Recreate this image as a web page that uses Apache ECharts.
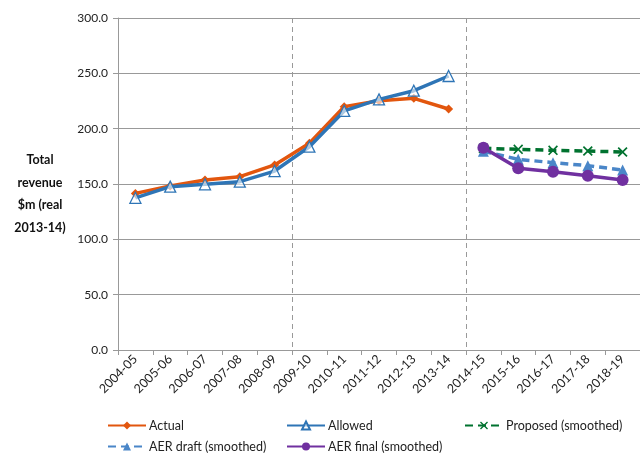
<!DOCTYPE html>
<html><head><meta charset="utf-8">
<script src="https://cdn.jsdelivr.net/npm/echarts@6/dist/echarts.min.js"></script>
<style>html,body{margin:0;padding:0;background:#fff}#c{width:640px;height:454px}</style>
</head><body><div id="c"></div>
<script>
var categories = ['2004-05','2005-06','2006-07','2007-08','2008-09','2009-10','2010-11','2011-12','2012-13','2013-14','2014-15','2015-16','2016-17','2017-18','2018-19'];
var actual   = [141.5,148.2,153.6,156.6,167.2,186.8,219.9,225.3,227.4,217.8,null,null,null,null,null];
var allowed  = [137.5,147.6,149.7,152.1,161.7,183.7,216.0,226.5,234.3,247.6,null,null,null,null,null];
var proposed = [null,null,null,null,null,null,null,null,null,null,182.2,181.3,180.4,179.8,178.9];
var aerDraft = [null,null,null,null,null,null,null,null,null,null,179.5,172.3,169.3,166.6,162.6];
var aerFinal = [null,null,null,null,null,null,null,null,null,null,182.8,164.2,161.1,157.5,153.6];
var yTicks = [0,50,100,150,200,250,300];

var FONT = 'Lato';
var crossPath = 'path://M1.2,0 L5,3.8 L8.8,0 L10,1.2 L6.2,5 L10,8.8 L8.8,10 L5,6.2 L1.2,10 L0,8.8 L3.8,5 L0,1.2 Z';
var chart = echarts.init(document.getElementById('c'));
function lg(name, left, top){
  return {data:[name], left:left, top:top, itemWidth:38, itemHeight:10, orient:'horizontal', padding:0,
    textStyle:{fontFamily:FONT, fontSize:12.5, color:'#222', padding:[0,0,0,-2]}, selectedMode:false};
}
chart.setOption({
  animation:false,
  textStyle:{fontFamily:FONT},
  grid:{left:118, right:-7, top:18, bottom:104},
  legend:[lg('Actual',107,419), lg('Allowed',286,419), lg('Proposed (smoothed)',464,419),
          lg('AER draft (smoothed)',107,440), lg('AER final (smoothed)',286,440)],
  graphic:[
    {type:'text', x:40, y:194, style:{text:'Total\nrevenue\n$m (real\n2013-14)', fontFamily:FONT, fontWeight:'bold', fontSize:12.5, lineHeight:22.5, textAlign:'center', textVerticalAlign:'middle', fill:'#111'}}],
  xAxis:{type:'category', data:categories, boundaryGap:true,
    axisLine:{lineStyle:{color:'#999', width:1}},
    axisTick:{show:true, length:5, lineStyle:{color:'#999'}, alignWithLabel:false},
    axisLabel:{rotate:45, interval:0, margin:7, fontFamily:FONT, fontSize:12.5, color:'#222'},
    splitLine:{show:true, interval:function(i){return i===5||i===10;}, lineStyle:{color:'#999', type:[5,4], width:1}}
  },
  yAxis:{type:'value', min:0, max:300, interval:50,
    axisLine:{show:true, lineStyle:{color:'#999'}},
    axisTick:{show:true, length:5, lineStyle:{color:'#999'}},
    axisLabel:{margin:10, fontFamily:FONT, fontSize:12, color:'#222', formatter:function(v){return v.toFixed(1);}},
    splitLine:{lineStyle:{color:'#999', width:1}}
  },
  series:[
    {name:'Actual', type:'line', data:actual, symbol:'diamond', symbolSize:9, z:3,
      lineStyle:{color:'#E2560E', width:3.5}, itemStyle:{color:'#E2560E'}},
    {name:'Allowed', type:'line', data:allowed, symbol:'triangle', symbolSize:11, z:4,
      lineStyle:{color:'#2E75B6', width:3.5}, itemStyle:{color:'rgba(255,255,255,0.6)', borderColor:'#2E75B6', borderWidth:1.3}},
    {name:'Proposed (smoothed)', type:'line', data:proposed, symbol:crossPath, symbolSize:10, z:3,
      lineStyle:{color:'#00722F', width:3.5, type:[8,5]}, itemStyle:{color:'#00722F'}},
    {name:'AER draft (smoothed)', type:'line', data:aerDraft, symbol:'triangle', symbolSize:11, z:4,
      lineStyle:{color:'#4A86C8', width:3.5, type:[8,5]}, itemStyle:{color:'#4A86C8'}},
    {name:'AER final (smoothed)', type:'line', data:aerFinal, symbol:'circle', symbolSize:12, z:5,
      lineStyle:{color:'#7030A0', width:3.5}, itemStyle:{color:'#7030A0'}}
  ]
});
</script></body></html>
